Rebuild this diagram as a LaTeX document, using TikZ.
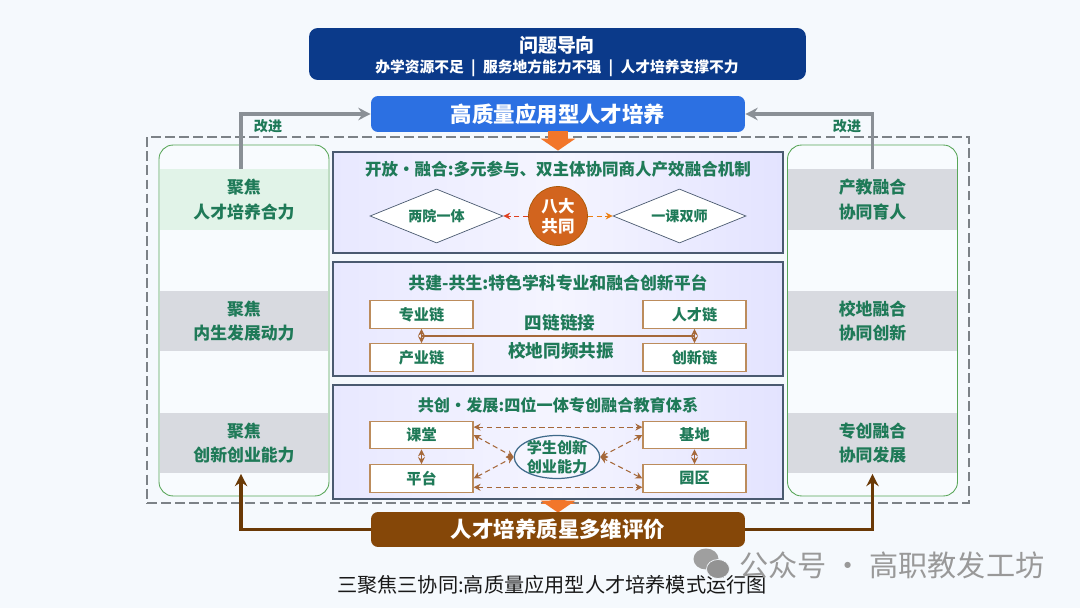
\documentclass[tikz,border=0pt]{standalone}
\usepackage{fontspec}
\setmainfont{Noto Sans CJK SC}
\usetikzlibrary{arrows.meta,positioning,calc,shapes.geometric}
\definecolor{pagebg}{HTML}{F5F9FD}
\definecolor{navybox}{HTML}{0B3A8A}
\definecolor{bluebox}{HTML}{2C70E2}
\definecolor{brownbox}{HTML}{854708}
\definecolor{orangetip}{HTML}{F2762A}
\definecolor{circlefill}{HTML}{D2641E}
\definecolor{gtext}{HTML}{1F7A58}
\definecolor{grayband}{HTML}{D8DAE0}
\definecolor{greenband}{HTML}{E1F3E8}
\definecolor{panelline}{HTML}{4A5A70}
\definecolor{ringline}{HTML}{3F6A8A}
\definecolor{linkcol}{HTML}{A5683A}
\definecolor{boxline}{HTML}{BC8C5C}
\definecolor{flowgray}{HTML}{8A9096}
\newcommand{\fs}[1]{\fontsize{#1}{#1}\selectfont}

\begin{document}
\begin{tikzpicture}[x=0.02cm,y=-0.02cm,>=Stealth,
 panel/.style={draw=panelline,line width=0.7pt,left color=blue!9,right color=blue!11,middle color=blue!4,minimum width=9cm,inner sep=0pt},
 column/.style={draw=green!30!gray,rounded corners=8pt,fill=pagebg!70!white,line width=0.5pt,minimum width=3.4cm,minimum height=7.02cm,inner sep=0pt},
 band/.style={fill=grayband,minimum width=3.38cm,minimum height=1.22cm,inner sep=0pt,align=center,text=gtext,font=\fs{9.6}\bfseries},
 head/.style={text=gtext,font=\fs{9.4}\bfseries},
 lab/.style={text=gtext,font=\fs{10}\bfseries},
 note/.style={text=gtext,font=\fs{8}\bfseries},
 wbox/.style={draw=boxline,line width=0.7pt,fill=white,minimum width=2.06cm,minimum height=0.55cm,inner sep=0pt,text=gtext,font=\fs{8.6}\bfseries},
 dia/.style={diamond,aspect=2.45,draw=panelline,fill=white,minimum width=2.66cm,minimum height=1.08cm,inner sep=0pt,text=gtext,font=\fs{8}\bfseries},
 wide/.style={rounded corners=4pt,minimum width=7.48cm,inner sep=0pt,text=white,font=\fs{12.2}\bfseries},
 flow/.style={line width=2pt,-{Stealth[length=7pt,width=7pt]}},
 dlink/.style={densely dashed,draw=linkcol,line width=0.6pt,{Stealth[length=4pt,width=4pt]}-{Stealth[length=4pt,width=4pt]}},
 slink/.style={draw=linkcol,line width=0.7pt,{Stealth[length=4pt,width=4pt]}-{Stealth[length=4pt,width=4pt]}}]
\useasboundingbox[fill=pagebg] (0,0) rectangle (1080,608);

% top boxes
\node[fill=navybox,rounded corners=5pt,minimum width=9.94cm,minimum height=1.04cm,inner sep=0pt] (problem) at (557.5,54) {};
\node[text=white,font=\fs{10.8}\bfseries] (ptitle) at (557,45) {问题导向};
\node[text=white,font=\fs{8.4}\bfseries] (psub) at (557,68) {办学资源不足\enspace|\enspace 服务地方能力不强\enspace|\enspace 人才培养支撑不力};
\node[wide,fill=bluebox,minimum height=0.72cm] (goal) at (558,114) {高质量应用型人才培养};

% dashed frame and columns
\node[draw=flowgray!90!black,line width=0.9pt,minimum width=16.44cm,minimum height=7.32cm,inner sep=0pt,dash pattern=on 5.6pt off 2.4pt] (frame) at (558,320) {};
\node[column] (lcol) at (244,320.5) {};
\node[column] (rcol) at (872.5,320.5) {};

\node[band,fill=greenband] (l1) at (244,199.5) {聚焦\\[4.4pt]人才培养合力};
\node[band] (l2) at (244,321) {聚焦\\[4.4pt]内生发展动力};
\node[band] (l3) at (244,443) {聚焦\\[4.4pt]创新创业能力};
\node[band] (r1) at (872.5,199.5) {产教融合\\[4.4pt]协同育人};
\node[band] (r2) at (872.5,321) {校地融合\\[4.4pt]协同创新};
\node[band] (r3) at (872.5,443) {专创融合\\[4.4pt]协同发展};

% orange arrows
\node[fill=orangetip,minimum width=0.4cm,minimum height=0.16cm,inner sep=0pt] (stem) at (558,135) {};
\node[fill=orangetip,isosceles triangle,shape border rotate=-90,isosceles triangle stretches,minimum width=0.7cm,minimum height=0.24cm,inner sep=0pt] (tiptop) at (558,144) {};
\node[fill=orangetip,isosceles triangle,shape border rotate=-90,isosceles triangle stretches,minimum width=0.7cm,minimum height=0.24cm,inner sep=0pt] (tipbot) at (558,506) {};
\node[fill=orangetip,isosceles triangle,shape border rotate=90,isosceles triangle stretches,minimum width=0.7cm,minimum height=0.12cm,inner sep=0pt] (tipcap) at (558,501) {};

% panels
\node[panel,minimum height=2.02cm] (p1) at (558,202.5) {};
\node[panel,minimum height=2.28cm] (p2) at (558,319) {};
\node[panel,minimum height=2.28cm] (p3) at (558,442) {};

\node[head] (h1) at (558,169) {开放·融合:多元参与、双主体协同商人产效融合机制};
\node[dia] (d1) at (436.5,216) {两院一体};
\node[dia] (d2) at (679.5,216) {一课双师};
\node[circle,fill=circlefill,draw=brownbox!70!orange,minimum size=1.18cm,inner sep=0pt,align=center,text=white,font=\fs{9.4}\bfseries] (eight) at (558,216) {八大\\[2pt]共同};
\draw[densely dashed,draw=red!50!brown,line width=0.5pt,-{Stealth[length=4pt,width=4pt]}] (eight) -- (d1);
\draw[densely dashed,draw=orange!70!brown,line width=0.5pt,-{Stealth[length=4pt,width=4pt]}] (eight) -- (d2);

\node[head,font=\fs{9.6}\bfseries] (h2) at (558,283) {共建-共生:特色学科专业和融合创新平台};
\node[wbox] (zy) at (421.5,314.5) {专业链};
\node[wbox] (cy) at (421.5,357.5) {产业链};
\node[wbox] (rc) at (694.5,314.5) {人才链};
\node[wbox] (cx) at (694.5,357.5) {创新链};
\draw[slink] (zy) -- (cy);
\draw[slink] (rc) -- (cx);
\coordinate (midl) at ($(zy.south)!.5!(cy.north)$);
\coordinate (midr) at ($(rc.south)!.5!(cx.north)$);
\draw[draw=linkcol,line width=0.7pt] (midl) -- (midr);
\node[lab] (four) at (560,323) {四链链接};
\node[lab] (sync) at (561,351) {校地同频共振};

\node[head,font=\fs{9.2}\bfseries] (h3) at (558,405) {共创·发展:四位一体专创融合教育体系};
\node[wbox] (kt) at (421.5,435) {课堂};
\node[wbox] (pt) at (421.5,478.5) {平台};
\node[wbox] (jd) at (694.5,435) {基地};
\node[wbox] (yq) at (694.5,478.5) {园区};
\node[ellipse,draw=ringline,line width=0.7pt,fill=blue!4,minimum width=1.68cm,minimum height=0.86cm,inner xsep=0pt,inner ysep=-2pt,align=center,text=gtext,font=\fs{8.6}\bfseries] (skill) at (557,457) {学生创新\\[2pt]创业能力};
\draw[slink] (kt) -- (pt);
\draw[slink] (jd) -- (yq);
\draw[dlink] ([yshift=4.5pt]kt.east) -- ([yshift=4.5pt]jd.west);
\draw[dlink] ([yshift=-5pt]pt.east) -- ([yshift=-5pt]yq.west);
\draw[dlink] (kt.east) -- (skill.west);
\draw[dlink] (pt.east) -- (skill.west);
\draw[dlink] (jd.west) -- (skill.east);
\draw[dlink] (yq.west) -- (skill.east);

% bottom box and feedback arrows
\node[wide,fill=brownbox,minimum height=0.7cm] (eval) at (558,529.5) {人才培养质星多维评价};
\draw[flow,draw=flowgray] ([xshift=-1.7pt]l1.north) |- (goal.west);
\draw[flow,draw=flowgray] (r1.north) |- (goal.east);
\node[note] (fixl) at (268,126) {改进};
\node[note] (fixr) at (847,126) {改进};
\draw[flow,draw=brownbox!80!black] (eval.west) -| ([xshift=-1.7pt]l3.south);
\draw[flow,draw=brownbox!80!black] (eval.east) -| (r3.south);

% caption and watermark
\node[text=black!90,font=\fs{11.5}] (caption) at (552,585) {三聚焦三协同:高质量应用型人才培养模式运行图};
\node[ellipse,fill=gray!75,minimum width=0.5cm,minimum height=0.42cm,inner sep=0pt] (wa) at (706,559) {};
\node[ellipse,fill=gray!85,draw=pagebg,minimum width=0.46cm,minimum height=0.38cm,inner sep=0pt] (wb) at (718,569) {};
\node[text=gray!80,font=\fs{16.6}] (mark) at (892,565) {公众号 · 高职教发工坊};
\end{tikzpicture}
\end{document}
